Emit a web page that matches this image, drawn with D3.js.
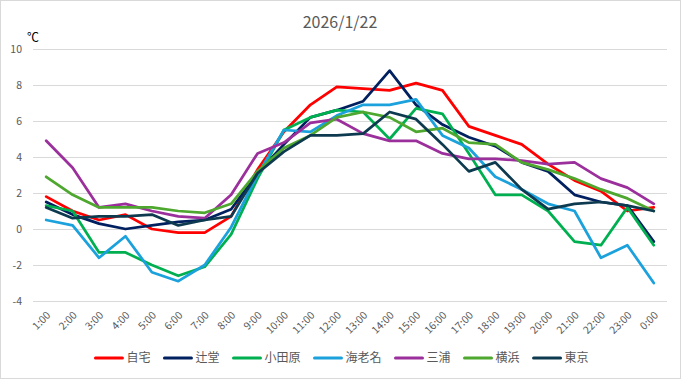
<!DOCTYPE html>
<html>
<head>
<meta charset="utf-8">
<script src="https://cdn.jsdelivr.net/npm/d3@7"></script>
<style>
  body { margin: 0; background: #fff; }
  svg { display: block; font-family: "Noto Sans CJK JP", "Noto Sans", sans-serif; }
</style>
</head>
<body>
<svg id="chart" width="681" height="379"></svg>
<script>
var hours = ["1:00","2:00","3:00","4:00","5:00","6:00","7:00","8:00","9:00","10:00","11:00","12:00",
  "13:00","14:00","15:00","16:00","17:00","18:00","19:00","20:00","21:00","22:00","23:00","0:00"];
var yTicks = [-4, -2, 0, 2, 4, 6, 8, 10];

var jitaku   = [1.8, 1.0, 0.5, 0.8, 0.0, -0.2, -0.2, 0.7, 3.3, 5.4, 6.9, 7.9, 7.8, 7.7, 8.1, 7.7, 5.7, 5.2, 4.7, 3.6, 2.7, 2.1, 1.0, 1.2];
var tsujido  = [1.5, 0.8, 0.3, 0.0, 0.2, 0.4, 0.5, 1.1, 3.1, 4.7, 6.2, 6.6, 7.1, 8.8, 6.9, 5.8, 5.1, 4.6, 3.7, 3.2, 1.9, 1.5, 1.3, -0.7];
var odawara  = [1.3, 1.0, -1.3, -1.3, -2.0, -2.6, -2.1, -0.3, 2.8, 5.5, 6.2, 6.6, 6.5, 5.0, 6.7, 6.4, 4.2, 1.9, 1.9, 1.0, -0.7, -0.9, 1.2, -0.9];
var ebina    = [0.5, 0.2, -1.6, -0.4, -2.4, -2.9, -2.0, 0.1, 3.0, 5.5, 5.4, 6.3, 6.9, 6.9, 7.2, 5.2, 4.5, 2.9, 2.2, 1.4, 1.0, -1.6, -0.9, -3.0];
var miura    = [4.9, 3.4, 1.2, 1.4, 1.0, 0.7, 0.6, 1.9, 4.2, 4.8, 5.9, 6.1, 5.3, 4.9, 4.9, 4.2, 3.9, 3.9, 3.8, 3.6, 3.7, 2.8, 2.3, 1.4];
var yokohama = [2.9, 1.9, 1.2, 1.2, 1.2, 1.0, 0.9, 1.4, 3.2, 4.5, 5.2, 6.2, 6.5, 6.2, 5.4, 5.6, 4.8, 4.7, 3.7, 3.3, 2.8, 2.2, 1.7, 1.0];
var tokyo    = [1.2, 0.6, 0.7, 0.7, 0.8, 0.2, 0.5, 0.7, 3.1, 4.3, 5.2, 5.2, 5.3, 6.5, 6.1, 4.7, 3.2, 3.7, 2.2, 1.1, 1.4, 1.5, 1.3, 1.0];

var series = [
  {name: "自宅", values: jitaku, color: "#ff0000"},
  {name: "辻堂", values: tsujido, color: "#002060"},
  {name: "小田原", values: odawara, color: "#00b050"},
  {name: "海老名", values: ebina, color: "#1ba1db"},
  {name: "三浦", values: miura, color: "#9b2f9b"},
  {name: "横浜", values: yokohama, color: "#4ea72e"},
  {name: "東京", values: tokyo, color: "#0e3a50"}
];

var svg = d3.select("#chart");

// outer frame
svg.append("rect").attr("x", 0.5).attr("y", 0.5).attr("width", 680).attr("height", 378)
  .attr("fill", "#fff").attr("stroke", "#d9d9d9");

var x = d3.scalePoint().domain(hours).range([33, 667]).padding(0.5);
var y = d3.scaleLinear().domain([-4, 10]).range([301, 49]);

// gridlines
svg.append("g").selectAll("line").data(yTicks).enter().append("line")
  .attr("x1", 33).attr("x2", 667)
  .attr("y1", function(d) { return y(d) + 0.5; })
  .attr("y2", function(d) { return y(d) + 0.5; })
  .attr("stroke", "#d9d9d9").attr("stroke-width", 1);

// y labels
svg.append("g").selectAll("text").data(yTicks).enter().append("text")
  .attr("x", 22).attr("y", function(d) { return y(d) + 4; })
  .attr("text-anchor", "end").attr("font-size", 10.5).attr("fill", "#595959")
  .text(function(d) { return d; });

// x labels
svg.append("g").selectAll("text").data(hours).enter().append("text")
  .attr("transform", function(d) { return "translate(" + (x(d) + 5) + ",316) rotate(-45)"; })
  .attr("text-anchor", "end").attr("font-size", 10.5).attr("fill", "#595959")
  .text(function(d) { return d; });

// title & unit
svg.append("text").attr("x", 340).attr("y", 28).attr("text-anchor", "middle")
  .attr("font-size", 16).attr("fill", "#595959").text("2026/1/22");
svg.append("text").attr("x", 27).attr("y", 42).attr("font-size", 12).attr("fill", "#000").text("℃");

// lines
var line = d3.line()
  .x(function(d, i) { return x(hours[i]); })
  .y(function(d) { return y(d); });

svg.append("g").selectAll("path").data(series).enter().append("path")
  .attr("d", function(s) { return line(s.values); })
  .attr("fill", "none")
  .attr("stroke", function(s) { return s.color; })
  .attr("stroke-width", 2.75)
  .attr("stroke-linejoin", "round")
  .attr("stroke-linecap", "round");

// legend
var lg = svg.append("g");
var items = lg.selectAll("g").data(series).enter().append("g");
items.append("line").attr("x1", 0).attr("x2", 27).attr("y1", 0).attr("y2", 0)
  .attr("stroke", function(s) { return s.color; }).attr("stroke-width", 3).attr("stroke-linecap", "round");
items.append("text").attr("x", 31).attr("y", 4).attr("font-size", 12).attr("fill", "#595959")
  .text(function(s) { return s.name; });

var pos = 0;
items.each(function() {
  var w = this.getBBox().width;
  d3.select(this).attr("transform", "translate(" + pos + ",0)");
  pos += w + 14;
});
var total = pos - 14;
lg.attr("transform", "translate(" + (342 - total / 2) + ",358)");
</script>
</body>
</html>
